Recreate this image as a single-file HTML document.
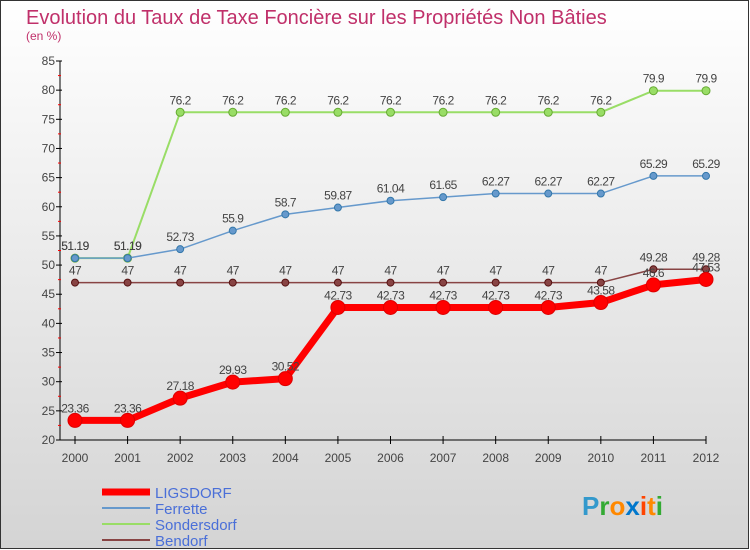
<!DOCTYPE html>
<html><head><meta charset="utf-8"><style>
body{margin:0;width:750px;height:550px;overflow:hidden;font-family:"Liberation Sans",sans-serif}
svg{display:block}
</style></head><body>
<svg id="c" width="750" height="550" xmlns="http://www.w3.org/2000/svg">
<defs><linearGradient id="bg" x1="0" y1="0" x2="0" y2="1"><stop offset="0" stop-color="#ffffff"/><stop offset="1" stop-color="#d4d4d4"/></linearGradient></defs>
<rect x="0.5" y="0.5" width="748" height="548" fill="url(#bg)" stroke="#333"/>
<text x="26" y="24" font-size="20" fill="#c0306a">Evolution du Taux de Taxe Foncière sur les Propriétés Non Bâties</text>
<text x="26" y="40" font-size="12" fill="#c0306a">(en %)</text>
<g id="axes"></g><g id="series"></g>
<g>
<line x1="102" y1="492" x2="150" y2="492" stroke="#f00" stroke-width="7"/>
<text x="155" y="498" font-size="15" fill="#4a6fd8">LIGSDORF</text>
<line x1="102" y1="508" x2="150" y2="508" stroke="#6699cc" stroke-width="2"/>
<text x="155" y="514" font-size="15" fill="#4a6fd8">Ferrette</text>
<line x1="102" y1="524" x2="150" y2="524" stroke="#99dd66" stroke-width="2"/>
<text x="155" y="530" font-size="15" fill="#4a6fd8">Sondersdorf</text>
<line x1="102" y1="540" x2="150" y2="540" stroke="#884444" stroke-width="2"/>
<text x="155" y="546" font-size="15" fill="#4a6fd8">Bendorf</text>
</g>
<text x="582" y="515" font-size="26" font-weight="bold"><tspan fill="#3399cc">P</tspan><tspan fill="#33aa33">r</tspan><tspan fill="#ff8800">o</tspan><tspan fill="#0077cc">x</tspan><tspan fill="#ff4400">i</tspan><tspan fill="#ff8800">t</tspan><tspan fill="#33aa33">i</tspan></text>
</svg>
<script>
const years=["2000","2001","2002","2003","2004","2005","2006","2007","2008","2009","2010","2011","2012"];
const yTicks=[20,25,30,35,40,45,50,55,60,65,70,75,80,85];
const ligsdorf=[23.36,23.36,27.18,29.93,30.52,42.73,42.73,42.73,42.73,42.73,43.58,46.6,47.53];
const ferrette=[51.19,51.19,52.73,55.9,58.7,59.87,61.04,61.65,62.27,62.27,62.27,65.29,65.29];
const sondersdorf=[51.19,51.19,76.2,76.2,76.2,76.2,76.2,76.2,76.2,76.2,76.2,79.9,79.9];
const bendorf=[47,47,47,47,47,47,47,47,47,47,47,49.28,49.28];
const NS="http://www.w3.org/2000/svg";
const X=i=>75+i*(706-75)/(years.length-1);
const Y=v=>440-(v-20)*(440-61)/65;
function mk(t,a,p){const e=document.createElementNS(NS,t);for(const k in a)e.setAttribute(k,a[k]);p.appendChild(e);return e;}
const ax=document.getElementById('axes'),sg=document.getElementById('series');
let l=mk('line',{x1:60,y1:61,x2:60,y2:440,stroke:'#000'},ax);


l=mk('line',{x1:60,y1:440,x2:706,y2:440,stroke:'#000'},ax);


yTicks.forEach(v=>{const y=Y(v);
mk('line',{x1:56,y1:y,x2:62,y2:y,stroke:'#000'},ax);
if(v<85)mk('line',{x1:58,y1:Y(v+2.5),x2:61,y2:Y(v+2.5),stroke:'#f00'},ax);
const t=mk('text',{x:55,y:y+4,'font-size':12,'text-anchor':'end',fill:'#444'},ax);t.textContent=v;

});
years.forEach((yr,i)=>{const x=X(i);
mk('line',{x1:x,y1:436,x2:x,y2:444,stroke:'#000'},ax);
const t=mk('text',{x:x,y:462,'font-size':12,'text-anchor':'middle',fill:'#444'},ax);t.textContent=yr;

});
function draw(d,name,col,w,r,stroke){
const g=mk('g',{},sg);


mk('polyline',{points:d.map((v,i)=>X(i)+','+Y(v)).join(' '),fill:'none',stroke:col,'stroke-width':w,'stroke-linejoin':'round'},g);
d.forEach((v,i)=>{const c=mk('circle',{cx:X(i),cy:Y(v),r:r,fill:col,stroke:stroke,'stroke-width':1},g);


const t=mk('text',{x:X(i),y:Y(v)-8,'font-size':12,'text-anchor':'middle',fill:'#444','letter-spacing':'-0.5'},g);t.textContent=v;

});}
draw(sondersdorf,'sondersdorf','#99dd66',2,4,'#66aa33');
draw(ferrette,'ferrette','#6699cc',1.5,3.5,'#3377aa');
draw(bendorf,'bendorf','#884444',1.5,3.5,'#551111');
draw(ligsdorf,'ligsdorf','#ff0000',7,7,'#dd0000');
</script>
</body></html>
